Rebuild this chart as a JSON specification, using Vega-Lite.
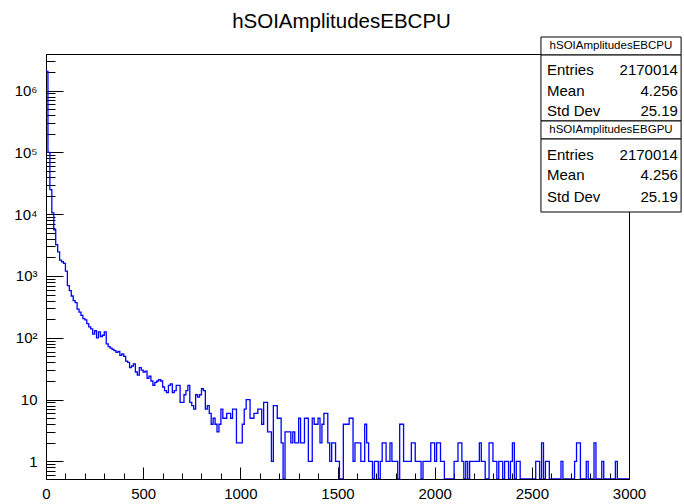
{
"$schema":"https://vega.github.io/schema/vega-lite/v6.json",
"width":583,"height":425,
"autosize":{"type":"none"},
"padding":{"left":46,"top":54,"right":55,"bottom":25},
"background":"white",
"title":{"text":"hSOIAmplitudesEBCPU","fontSize":20.5,"font":"Liberation Sans","fontWeight":"normal","color":"black","offset":4,"dx":4,"anchor":"middle"},
"config":{"view":{"stroke":"black","strokeWidth":1},"axis":{"grid":false,"domainColor":"black","tickColor":"black","labelColor":"black","labelFont":"Liberation Sans","labelFontSize":15,"title":null}},
"datasets":{
"hist":[
{"x":0,"n":2040000},{"x":10,"n":100000},{"x":20,"n":25000},{"x":30,"n":10500},{"x":40,"n":5600},{"x":50,"n":3200},{"x":60,"n":2450},{"x":70,"n":1800},{"x":80,"n":1700},{"x":90,"n":1600},
{"x":100,"n":1200},{"x":110,"n":700},{"x":120,"n":580},{"x":130,"n":475},{"x":140,"n":400},{"x":150,"n":370},{"x":160,"n":290},{"x":170,"n":260},{"x":180,"n":230},{"x":190,"n":205},
{"x":200,"n":195},{"x":210,"n":170},{"x":220,"n":150},{"x":230,"n":140},{"x":240,"n":115},{"x":250,"n":130},{"x":260,"n":100},{"x":270,"n":125},{"x":280,"n":105},{"x":290,"n":110},
{"x":300,"n":125},{"x":310,"n":80},{"x":320,"n":72},{"x":330,"n":68},{"x":340,"n":65},{"x":350,"n":62},{"x":360,"n":58},{"x":370,"n":60},{"x":380,"n":52},{"x":390,"n":55},
{"x":400,"n":50},{"x":410,"n":42},{"x":420,"n":40},{"x":430,"n":33},{"x":440,"n":35},{"x":450,"n":38},{"x":460,"n":28},{"x":470,"n":25},{"x":480,"n":33},{"x":490,"n":30},
{"x":500,"n":28},{"x":510,"n":29},{"x":520,"n":22},{"x":530,"n":24},{"x":540,"n":20},{"x":550,"n":17},{"x":560,"n":19},{"x":570,"n":20},{"x":580,"n":21},{"x":590,"n":20},
{"x":600,"n":16},{"x":610,"n":14},{"x":620,"n":13},{"x":630,"n":17},{"x":640,"n":18},{"x":650,"n":13},{"x":660,"n":14},{"x":670,"n":17},{"x":680,"n":17},{"x":690,"n":9},
{"x":700,"n":9},{"x":710,"n":12},{"x":720,"n":14},{"x":730,"n":17},{"x":740,"n":9},{"x":750,"n":8},{"x":760,"n":7},{"x":770,"n":12},{"x":780,"n":11},{"x":790,"n":12},
{"x":800,"n":15},{"x":810,"n":14},{"x":820,"n":7},{"x":830,"n":8},{"x":840,"n":6},{"x":850,"n":4},{"x":860,"n":5},{"x":870,"n":4},{"x":880,"n":3},{"x":890,"n":4},
{"x":900,"n":7},{"x":910,"n":5},{"x":920,"n":5},{"x":930,"n":6},{"x":940,"n":6},{"x":950,"n":5},{"x":960,"n":7},{"x":970,"n":7},{"x":980,"n":2},{"x":990,"n":2},
{"x":1000,"n":2},{"x":1010,"n":4},{"x":1020,"n":7},{"x":1030,"n":10},{"x":1040,"n":10},{"x":1050,"n":5},{"x":1060,"n":5},{"x":1070,"n":6},{"x":1080,"n":6},{"x":1090,"n":7},
{"x":1100,"n":7},{"x":1110,"n":4},{"x":1120,"n":9},{"x":1130,"n":9},{"x":1140,"n":3},{"x":1150,"n":3},{"x":1160,"n":1},{"x":1170,"n":8},{"x":1180,"n":8},{"x":1190,"n":5},
{"x":1200,"n":5},{"x":1210,"n":2},{"x":1220,"n":0},{"x":1230,"n":3},{"x":1240,"n":3},{"x":1250,"n":3},{"x":1260,"n":2},{"x":1270,"n":3},{"x":1280,"n":2},{"x":1290,"n":2},
{"x":1300,"n":5},{"x":1310,"n":2},{"x":1320,"n":2},{"x":1330,"n":5},{"x":1340,"n":5},{"x":1350,"n":1},{"x":1360,"n":1},{"x":1370,"n":5},{"x":1380,"n":4},{"x":1390,"n":4},
{"x":1400,"n":5},{"x":1410,"n":2},{"x":1420,"n":4},{"x":1430,"n":6},{"x":1440,"n":6},{"x":1450,"n":2},{"x":1460,"n":1},{"x":1470,"n":2},{"x":1480,"n":2},{"x":1490,"n":1},
{"x":1500,"n":1},{"x":1510,"n":0},{"x":1520,"n":0},{"x":1530,"n":4},{"x":1540,"n":4},{"x":1550,"n":4},{"x":1560,"n":5},{"x":1570,"n":5},{"x":1580,"n":1},{"x":1590,"n":2},
{"x":1600,"n":2},{"x":1610,"n":2},{"x":1620,"n":1},{"x":1630,"n":1},{"x":1640,"n":4},{"x":1650,"n":2},{"x":1660,"n":1},{"x":1670,"n":1},{"x":1680,"n":0},{"x":1690,"n":1},
{"x":1700,"n":1},{"x":1710,"n":0},{"x":1720,"n":1},{"x":1730,"n":2},{"x":1740,"n":2},{"x":1750,"n":1},{"x":1760,"n":1},{"x":1770,"n":2},{"x":1780,"n":1},{"x":1790,"n":1},
{"x":1800,"n":1},{"x":1810,"n":0},{"x":1820,"n":4},{"x":1830,"n":4},{"x":1840,"n":1},{"x":1850,"n":1},{"x":1860,"n":1},{"x":1870,"n":1},{"x":1880,"n":2},{"x":1890,"n":2},
{"x":1900,"n":1},{"x":1910,"n":1},{"x":1920,"n":1},{"x":1930,"n":0},{"x":1940,"n":1},{"x":1950,"n":1},{"x":1960,"n":1},{"x":1970,"n":1},{"x":1980,"n":2},{"x":1990,"n":2},
{"x":2000,"n":1},{"x":2010,"n":2},{"x":2020,"n":2},{"x":2030,"n":1},{"x":2040,"n":1},{"x":2050,"n":0},{"x":2060,"n":0},{"x":2070,"n":0},{"x":2080,"n":0},{"x":2090,"n":0},
{"x":2100,"n":1},{"x":2110,"n":1},{"x":2120,"n":2},{"x":2130,"n":2},{"x":2140,"n":1},{"x":2150,"n":0},{"x":2160,"n":1},{"x":2170,"n":0},{"x":2180,"n":1},{"x":2190,"n":1},
{"x":2200,"n":1},{"x":2210,"n":1},{"x":2220,"n":1},{"x":2230,"n":2},{"x":2240,"n":1},{"x":2250,"n":1},{"x":2260,"n":0},{"x":2270,"n":0},{"x":2280,"n":2},{"x":2290,"n":2},
{"x":2300,"n":1},{"x":2310,"n":1},{"x":2320,"n":0},{"x":2330,"n":1},{"x":2340,"n":1},{"x":2350,"n":0},{"x":2360,"n":1},{"x":2370,"n":1},{"x":2380,"n":0},{"x":2390,"n":1},
{"x":2400,"n":2},{"x":2410,"n":0},{"x":2420,"n":1},{"x":2430,"n":1},{"x":2440,"n":0},{"x":2450,"n":0},{"x":2460,"n":0},{"x":2470,"n":0},{"x":2480,"n":0},{"x":2490,"n":0},
{"x":2500,"n":0},{"x":2510,"n":0},{"x":2520,"n":1},{"x":2530,"n":1},{"x":2540,"n":0},{"x":2550,"n":2},{"x":2560,"n":0},{"x":2570,"n":1},{"x":2580,"n":1},{"x":2590,"n":0},
{"x":2600,"n":0},{"x":2610,"n":0},{"x":2620,"n":0},{"x":2630,"n":0},{"x":2640,"n":0},{"x":2650,"n":1},{"x":2660,"n":0},{"x":2670,"n":0},{"x":2680,"n":0},{"x":2690,"n":0},
{"x":2700,"n":0},{"x":2710,"n":0},{"x":2720,"n":1},{"x":2730,"n":2},{"x":2740,"n":2},{"x":2750,"n":0},{"x":2760,"n":0},{"x":2770,"n":0},{"x":2780,"n":1},{"x":2790,"n":0},
{"x":2800,"n":0},{"x":2810,"n":0},{"x":2820,"n":2},{"x":2830,"n":0},{"x":2840,"n":0},{"x":2850,"n":0},{"x":2860,"n":1},{"x":2870,"n":0},{"x":2880,"n":0},{"x":2890,"n":0},
{"x":2900,"n":0},{"x":2910,"n":0},{"x":2920,"n":0},{"x":2930,"n":1},{"x":2940,"n":0},{"x":2950,"n":0},{"x":2960,"n":0},{"x":2970,"n":0},{"x":2980,"n":0},{"x":2990,"n":0},
{"x":3000,"n":0}
],
"boxes":[
{"x1":2547,"x2":3268,"y1":-4.0,"y2":0.24},
{"x1":2547,"x2":3268,"y1":0.24,"y2":15.76},
{"x1":2547,"x2":3268,"y1":15.76,"y2":20.0},
{"x1":2547,"x2":3268,"y1":20.0,"y2":37.18}
],
"stats":[
{"label":"Entries","value":"2170014","lx":2578,"rx":3252,"y":3.76},
{"label":"Mean","value":"4.256","lx":2578,"rx":3252,"y":8.7},
{"label":"Std Dev","value":"25.19","lx":2578,"rx":3252,"y":13.4},
{"label":"Entries","value":"2170014","lx":2578,"rx":3252,"y":23.8},
{"label":"Mean","value":"4.256","lx":2578,"rx":3252,"y":28.5},
{"label":"Std Dev","value":"25.19","lx":2578,"rx":3252,"y":33.6}
],
"heads":[
{"t":"hSOIAmplitudesEBCPU","cx":2907,"y":-1.88},
{"t":"hSOIAmplitudesEBGPU","cx":2907,"y":17.9}
]
},
"layer":[
{"layer":[
{"data":{"name":"hist"},
 "mark":{"type":"line","interpolate":"step-after","color":"#0000ff","strokeWidth":1.3,"invalid":"show","clip":true},
 "encoding":{
  "x":{"field":"x","type":"quantitative","scale":{"domain":[0,3000],"nice":false,"zero":false},
       "axis":{"orient":"bottom","values":[0,500,1000,1500,2000,2500,3000],"tickSize":-12,"labelPadding":19,"format":"d","labelFlush":false,"labelOverlap":false}},
  "y":{"field":"n","type":"quantitative","scale":{"type":"log","domain":[0.52,3900000],"nice":false,"clamp":true},
       "axis":{"orient":"left","values":[1,10,100,1000,10000,100000,1000000],"tickSize":-17,"labelPadding":26,"labelOverlap":false,
               "labelExpr":"datum.value >= 1000000 ? '10⁶' : datum.value >= 100000 ? '10⁵' : datum.value >= 10000 ? '10⁴' : datum.value >= 1000 ? '10³' : datum.value >= 100 ? '10²' : datum.value >= 10 ? '10' : '1'"}}
 }},
{"data":{"name":"hist"},
 "mark":{"type":"line","interpolate":"step-after","opacity":0,"invalid":"show"},
 "encoding":{
  "x":{"field":"x","type":"quantitative","scale":{"domain":[0,3000],"nice":false,"zero":false},
       "axis":{"orient":"bottom","values":[100,200,300,400,600,700,800,900,1100,1200,1300,1400,1600,1700,1800,1900,2100,2200,2300,2400,2600,2700,2800,2900],"tickSize":-6,"labels":false,"domain":false}},
  "y":{"field":"n","type":"quantitative","scale":{"type":"log","domain":[0.52,3900000],"nice":false,"clamp":true},
       "axis":{"orient":"left","values":[0.6,0.7,0.8,0.9,2,3,4,5,6,7,8,9,20,30,40,50,60,70,80,90,200,300,400,500,600,700,800,900,2000,3000,4000,5000,6000,7000,8000,9000,20000,30000,40000,50000,60000,70000,80000,90000,200000,300000,400000,500000,600000,700000,800000,900000,2000000,3000000],"tickSize":-9,"labels":false,"domain":false}}
 }}
],
"resolve":{"axis":{"x":"independent","y":"independent"}}},
{"layer":[
{"data":{"name":"boxes"},
 "mark":{"type":"rect","fill":"white","stroke":"black","strokeWidth":1},
 "encoding":{
  "x":{"field":"x1","type":"quantitative","scale":{"domain":[0,3000],"nice":false,"zero":false},"axis":null},
  "x2":{"field":"x2"},
  "y":{"field":"y1","type":"quantitative","scale":{"domain":[0,100],"nice":false,"zero":false,"reverse":true},"axis":null},
  "y2":{"field":"y2"}
 }},
{"data":{"name":"stats"},
 "mark":{"type":"text","align":"left","baseline":"middle","font":"Liberation Sans","fontSize":15,"color":"black"},
 "encoding":{
  "x":{"field":"lx","type":"quantitative","scale":{"domain":[0,3000],"nice":false,"zero":false},"axis":null},
  "y":{"field":"y","type":"quantitative","scale":{"domain":[0,100],"nice":false,"zero":false,"reverse":true},"axis":null},
  "text":{"field":"label"}
 }},
{"data":{"name":"stats"},
 "mark":{"type":"text","align":"right","baseline":"middle","font":"Liberation Sans","fontSize":15,"color":"black"},
 "encoding":{
  "x":{"field":"rx","type":"quantitative","scale":{"domain":[0,3000],"nice":false,"zero":false},"axis":null},
  "y":{"field":"y","type":"quantitative","scale":{"domain":[0,100],"nice":false,"zero":false,"reverse":true},"axis":null},
  "text":{"field":"value"}
 }},
{"data":{"name":"heads"},
 "mark":{"type":"text","align":"center","baseline":"middle","font":"Liberation Sans","fontSize":11.5,"color":"black"},
 "encoding":{
  "x":{"field":"cx","type":"quantitative","scale":{"domain":[0,3000],"nice":false,"zero":false},"axis":null},
  "y":{"field":"y","type":"quantitative","scale":{"domain":[0,100],"nice":false,"zero":false,"reverse":true},"axis":null},
  "text":{"field":"t"}
 }}
]}
],
"resolve":{"scale":{"x":"independent","y":"independent"},"axis":{"x":"independent","y":"independent"}}
}
